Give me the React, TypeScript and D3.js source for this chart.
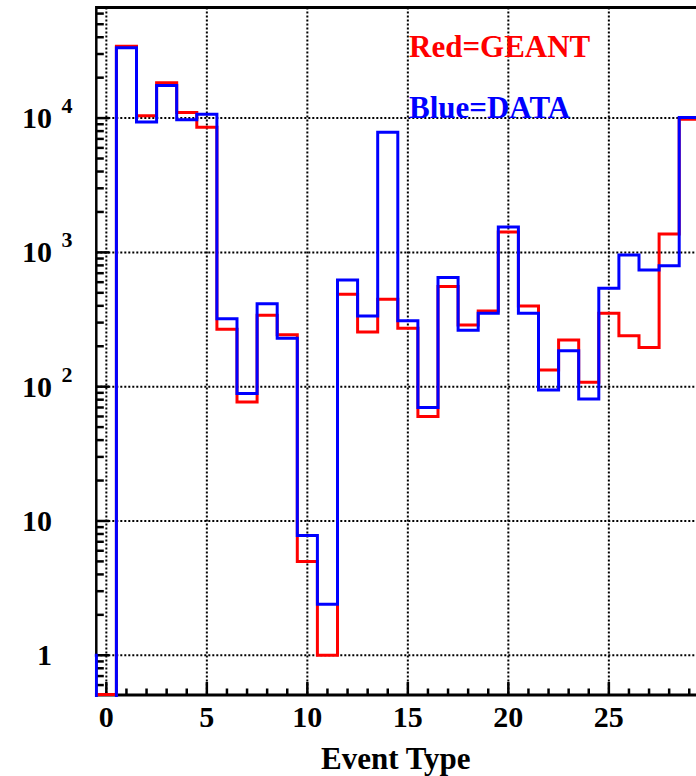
import React from "react";
import * as d3 from "d3";

// Event-type histogram, one bin per integer type (bin -1 sits just outside the frame)
const eventTypes = [-1, 0, 1, 2, 3, 4, 5, 6, 7, 8, 9, 10, 11, 12, 13, 14, 15, 16, 17, 18, 19, 20, 21, 22, 23, 24, 25, 26, 27, 28, 29];
const geantCounts = [0, 0.51, 34200, 10400, 18300, 11000, 8550, 268, 77, 340, 244, 5, 1, 488, 255, 448, 272, 60, 556, 288, 366, 1420, 399, 133, 223, 108, 352, 239, 196, 1371, 9800];
const dataCounts = [1, 0, 33400, 9350, 17500, 9700, 10700, 320, 89, 415, 229, 7.8, 2.4, 623, 336, 7840, 310, 70, 649, 263, 352, 1545, 352, 94.5, 185, 81, 541, 957, 739, 796, 10100];
const xMajorTicks = [0, 5, 10, 15, 20, 25];
const legendLabels = ["Red=GEANT", "Blue=DATA"];
const axisTitle = "Event Type";

const W = 696;
const H = 776;
const left = 96.3;
const top = 7.5;
const bottom = 695;
const font = "'Liberation Serif', 'Times New Roman', serif";

const x = d3.scaleLinear().domain([-0.5, 30.5]).range([left, left + 31 * 20.1]);
const y = d3.scaleLog().domain([0.506, 66600]).range([bottom, top]);

function stepPath(values: number[]): string {
  const yv = (v: number) => (v > 0 ? y(v) : bottom + 30);
  let d = "";
  eventTypes.forEach((t, i) => {
    const x0 = x(t - 0.5);
    const x1 = x(t + 0.5);
    const yy = yv(values[i]);
    d += i === 0 ? `M${x0},${bottom + 30}L${x0},${yy}` : `L${x0},${yy}`;
    d += `L${x1},${yy}`;
    if (i === eventTypes.length - 1) d += `L${x1},${bottom + 30}`;
  });
  return d;
}

export default function App() {
  const right = x.range()[1];
  const yTicks = y.ticks();
  const isMajor = (v: number) => Math.abs(Math.log10(v) - Math.round(Math.log10(v))) < 1e-9;
  const yMajor = yTicks.filter(isMajor);
  const xMinor = d3.range(0, 31);
  const grid = { stroke: "#000", strokeWidth: 2, strokeDasharray: "2 2" };

  return (
    <svg
      width={W}
      height={H}
      style={{ position: "absolute", left: 0, top: 0, background: "#fff" }}
      fontFamily={font}
      fontWeight="bold"
    >
      <defs>
        <clipPath id="plotClip">
          <rect x={left - 1.5} y={top} width={right - left + 2} height={bottom - top + 2} />
        </clipPath>
      </defs>
      <rect x={0} y={0} width={W} height={H} fill="#fff" />

      {/* dotted grid */}
      {xMajorTicks.map((t) => (
        <line key={"gx" + t} x1={x(t)} x2={x(t)} y1={top} y2={bottom} {...grid} />
      ))}
      {yMajor.map((v) => (
        <line key={"gy" + v} x1={left} x2={right} y1={y(v)} y2={y(v)} {...grid} />
      ))}

      {/* frame */}
      <line x1={left} x2={right} y1={top} y2={top} stroke="#000" strokeWidth={3} />
      <line x1={right} x2={right} y1={top} y2={bottom} stroke="#000" strokeWidth={3} />
      <line x1={left} x2={left} y1={top - 1.5} y2={bottom + 1.5} stroke="#000" strokeWidth={2.5} />
      <line x1={left} x2={right} y1={bottom} y2={bottom} stroke="#000" strokeWidth={3} />

      {/* y axis ticks */}
      {yTicks.map((v) => (
        <line
          key={"ty" + v}
          x1={left}
          x2={left + (isMajor(v) ? 13 : 7.5)}
          y1={y(v)}
          y2={y(v)}
          stroke="#000"
          strokeWidth={2.5}
        />
      ))}
      {/* x axis ticks */}
      {xMinor.map((t) => (
        <line
          key={"tx" + t}
          x1={x(t)}
          x2={x(t)}
          y1={bottom}
          y2={bottom - (t % 5 === 0 ? 13 : 6.5)}
          stroke="#000"
          strokeWidth={2.5}
        />
      ))}

      {/* y tick labels */}
      {yMajor.map((v) => {
        const e = Math.round(Math.log10(v));
        const yy = y(v);
        if (e <= 1) {
          return (
            <text key={"ly" + v} x={52} y={yy + 10} fontSize={30} textAnchor="end">
              {e === 0 ? "1" : "10"}
            </text>
          );
        }
        return (
          <g key={"ly" + v}>
            <text x={52} y={yy + 10} fontSize={30} textAnchor="end">
              10
            </text>
            <text x={61.5} y={yy - 5} fontSize={22}>
              {String(e)}
            </text>
          </g>
        );
      })}

      {/* x tick labels */}
      {xMajorTicks.map((t) => (
        <text key={"lx" + t} x={x(t)} y={727} fontSize={30} textAnchor="middle">
          {String(t)}
        </text>
      ))}
      <text x={321} y={769} fontSize={31}>
        {axisTitle}
      </text>

      {/* histograms */}
      <g clipPath="url(#plotClip)" fill="none" strokeWidth={3}>
        <path d={stepPath(geantCounts)} stroke="#ff0000" />
        <path d={stepPath(dataCounts)} stroke="#0000ff" />
      </g>

      {/* legend */}
      <text x={409} y={57} fontSize={31} fill="#ff0000">
        {legendLabels[0]}
      </text>
      <text x={409} y={117.5} fontSize={31} fill="#0000ff">
        {legendLabels[1]}
      </text>
    </svg>
  );
}
